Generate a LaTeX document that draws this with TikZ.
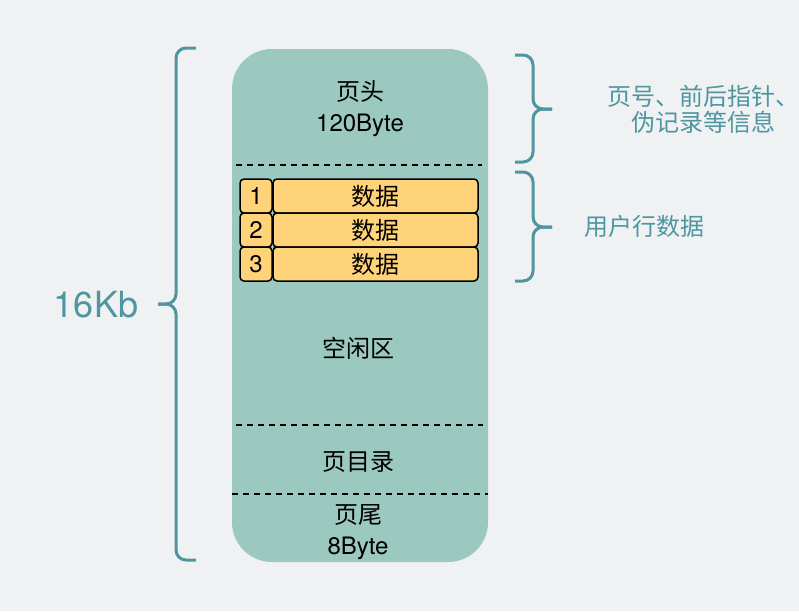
\documentclass[tikz,border=0pt]{standalone}
\usepackage{fontspec}
\usepackage{xcolor}
\setmainfont{TeX Gyre Heros}
\newfontfamily\cjk{Noto Sans CJK SC}
\definecolor{bgc}{HTML}{F0F1F3}
\definecolor{pagec}{HTML}{9BC8BF}
\definecolor{rowc}{HTML}{FFD37A}
\definecolor{tealc}{HTML}{4E96A0}
\tikzstyle{txt} = [inner sep=0pt, font=\fontsize{24}{31}\selectfont]
\tikzstyle{page} = [rectangle, fill=pagec, rounded corners=40pt, minimum width=256pt, minimum height=513pt, inner sep=0pt]
\tikzstyle{rowbox} = [rectangle, draw=black, line width=1.5pt, fill=rowc, rounded corners=4pt, minimum height=34pt, inner sep=0pt, font=\fontsize{24}{27}\selectfont]
\tikzstyle{numbox} = [rowbox, minimum width=32pt]
\tikzstyle{databox} = [rowbox, minimum width=205pt]
\tikzstyle{sep} = [dash pattern=on 6pt off 5pt, line width=1.5pt]
\tikzstyle{curly} = [draw=tealc, line width=3pt, rounded corners=10pt]

\begin{document}
\begin{tikzpicture}[x=1pt,y=-1pt]
  \fill[bgc] (0,0) rectangle (799,611);
  \useasboundingbox (0,0) rectangle (799,611);

  % the page
  \node[page] (page) at (360,305.5) {};
  \draw[sep] (236,165) -- (482,165);
  \draw[sep] (236,425) -- (483,425);
  \draw[sep] (232,494) -- (488,494);

  \node[txt, align=center] (head) at (360,108.5) {{\cjk 页头}\\120Byte};
  \foreach \i/\y in {1/196,2/230,3/264} {
    \node[numbox] (N_\i) at (256,\y) {\i};
    \node[databox] (D_\i) at (375.5,\y) {{\cjk 数据}};
  }
  \node[txt] (free) at (358,348) {\cjk 空闲区};
  \node[txt] (dir) at (358,462) {\cjk 页目录};
  \node[txt, align=center] (tail) at (358,532.5) {{\cjk 页尾}\\8Byte};

  % braces
  \draw[curly] (196,48) -- (176,48) -- (176,304) -- (158,304);
  \draw[curly] (158,304) -- (176,304) -- (176,560) -- (196,560);
  \foreach \t/\m/\b in {55/109/162,172/227/281} {
    \draw[curly] (515,\t) -- (533,\t) -- (533,\m) -- (552,\m);
    \draw[curly] (552,\m) -- (533,\m) -- (533,\b) -- (515,\b);
  }

  \node[txt, text=tealc, font=\fontsize{36}{40}\selectfont] (size) at (96,305) {16Kb};
  \node[txt, text=tealc, align=center, font=\fontsize{24}{26}\selectfont\cjk] (info) at (703,109) {页号、前后指针、\\伪记录等信息};
  \node[txt, text=tealc, font=\fontsize{24}{27}\selectfont\cjk] (user) at (644,226) {用户行数据};
\end{tikzpicture}
\end{document}
